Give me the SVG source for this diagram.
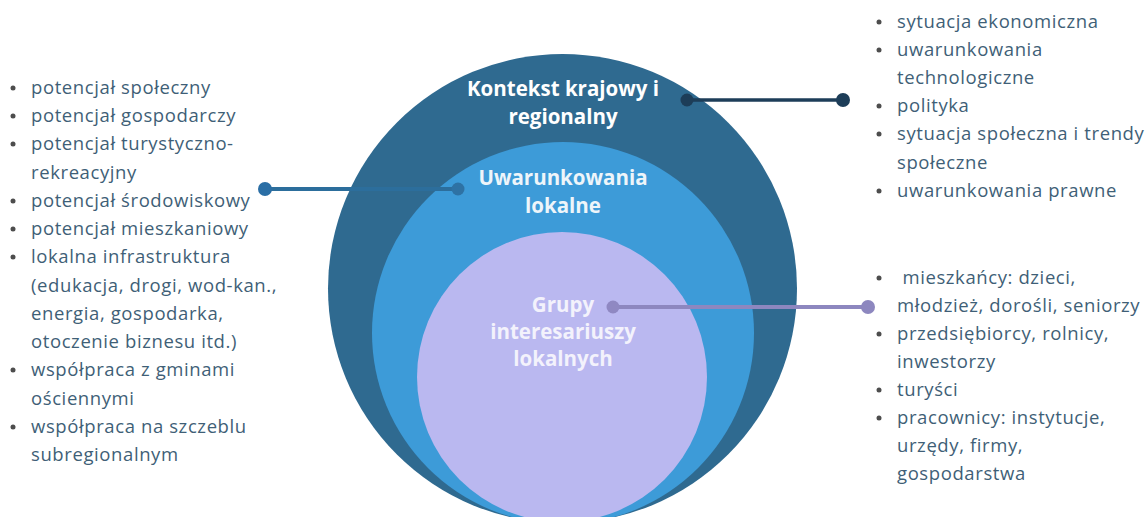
<svg xmlns="http://www.w3.org/2000/svg" width="1148" height="517" viewBox="0 0 1148 517">
<style>
.lst{font-family:"Open Sans","Liberation Sans",sans-serif;font-size:18.5px;letter-spacing:0.6px;fill:#3f5f77}
.lbl{font-family:"Open Sans","Liberation Sans",sans-serif;font-size:20.5px;font-weight:bold;text-anchor:middle}
.bul{fill:#4d4d4d}
</style>
<rect width="1148" height="517" fill="#ffffff"/>
<g id="circle-outer"><circle cx="562.5" cy="288.5" r="234.5" fill="#2f6a90"/></g>
<g id="circle-middle"><circle cx="563" cy="333" r="191" fill="#3d9bd8"/></g>
<g id="circle-inner"><circle cx="562" cy="377" r="145" fill="#bab8f0"/></g>
<g id="connectors">
<line x1="687" y1="100" x2="843" y2="100" stroke="#1d3d58" stroke-width="3.5"/>
<circle cx="687" cy="100" r="6.5" fill="#1d3d58"/>
<circle cx="843" cy="100" r="7" fill="#1d3d58"/>
<line x1="265" y1="189" x2="458" y2="189" stroke="#2c6e9c" stroke-width="4"/>
<circle cx="265" cy="189" r="7" fill="#2a6ea5"/>
<circle cx="458" cy="189" r="6.5" fill="#2e72a4"/>
<line x1="613" y1="307" x2="868" y2="307" stroke="#8d87bf" stroke-width="4"/>
<circle cx="613" cy="307" r="6.5" fill="#8f88c2"/>
<circle cx="868" cy="307" r="7" fill="#8d87bf"/>
</g>
<g id="label-outer" class="lbl" fill="#ffffff">
<text x="563" y="96">Kontekst krajowy i</text>
<text x="563" y="124">regionalny</text>
</g>
<g id="label-middle" class="lbl" fill="#eef5fa">
<text x="563" y="185">Uwarunkowania</text>
<text x="563" y="213">lokalne</text>
</g>
<g id="label-inner" class="lbl" fill="#f3f2fc">
<text x="563" y="312">Grupy</text>
<text x="563" y="339">interesariuszy</text>
<text x="563" y="366">lokalnych</text>
</g>
<g id="list-left">
<g class="bul">
<circle cx="13" cy="88" r="2.5"/><circle cx="13" cy="116" r="2.5"/><circle cx="13" cy="144" r="2.5"/>
<circle cx="13" cy="201" r="2.5"/><circle cx="13" cy="229" r="2.5"/><circle cx="13" cy="257" r="2.5"/>
<circle cx="13" cy="370" r="2.5"/><circle cx="13" cy="427" r="2.5"/>
</g>
<g class="lst">
<text x="31" y="94">potencjał społeczny</text>
<text x="31" y="122">potencjał gospodarczy</text>
<text x="31" y="150">potencjał turystyczno-</text>
<text x="31" y="179">rekreacyjny</text>
<text x="31" y="207">potencjał środowiskowy</text>
<text x="31" y="235">potencjał mieszkaniowy</text>
<text x="31" y="263">lokalna infrastruktura</text>
<text x="31" y="292">(edukacja, drogi, wod-kan.,</text>
<text x="31" y="320">energia, gospodarka,</text>
<text x="31" y="348">otoczenie biznesu itd.)</text>
<text x="31" y="376">współpraca z gminami</text>
<text x="31" y="405">ościennymi</text>
<text x="31" y="433">współpraca na szczeblu</text>
<text x="31" y="461">subregionalnym</text>
</g>
</g>
<g id="list-right-top">
<g class="bul">
<circle cx="879" cy="22" r="2.5"/><circle cx="879" cy="50" r="2.5"/><circle cx="879" cy="106" r="2.5"/>
<circle cx="879" cy="134" r="2.5"/><circle cx="879" cy="191" r="2.5"/>
</g>
<g class="lst">
<text x="897" y="28">sytuacja ekonomiczna</text>
<text x="897" y="56">uwarunkowania</text>
<text x="897" y="84">technologiczne</text>
<text x="897" y="112">polityka</text>
<text x="897" y="140">sytuacja społeczna i trendy</text>
<text x="897" y="169">społeczne</text>
<text x="897" y="197">uwarunkowania prawne</text>
</g>
</g>
<g id="list-right-bottom">
<g class="bul">
<circle cx="879" cy="278" r="2.5"/><circle cx="879" cy="334" r="2.5"/>
<circle cx="879" cy="390" r="2.5"/><circle cx="879" cy="418" r="2.5"/>
</g>
<g class="lst">
<text x="897" y="284" xml:space="preserve"> mieszkańcy: dzieci,</text>
<text x="897" y="312">młodzież, dorośli, seniorzy</text>
<text x="897" y="340">przedsiębiorcy, rolnicy,</text>
<text x="897" y="368">inwestorzy</text>
<text x="897" y="396">turyści</text>
<text x="897" y="424">pracownicy: instytucje,</text>
<text x="897" y="452">urzędy, firmy,</text>
<text x="897" y="480">gospodarstwa</text>
</g>
</g>
</svg>
